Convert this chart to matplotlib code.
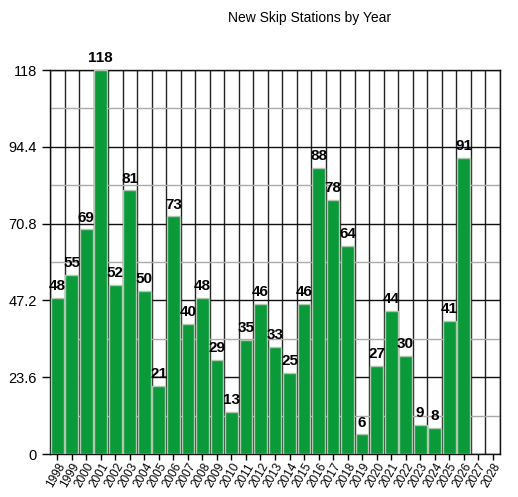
import matplotlib
matplotlib.use("Agg")
import matplotlib.pyplot as plt
import numpy as np

years = [str(y) for y in range(1998, 2029)]
values = [48, 55, 69, 118, 52, 81, 50, 21, 73, 40, 48, 29, 13, 35, 46, 33, 25, 46,
          88, 78, 64, 6, 27, 44, 30, 9, 8, 41, 91, None, None]
yticks = [0, 23.6, 47.2, 70.8, 94.4, 118]
ytick_labels = ["0", "23.6", "47.2", "70.8", "94.4", "118"]
minor_yticks = [11.8, 35.4, 59.0, 82.6, 106.2]

plt.rcParams['font.family'] = ['Liberation Sans', 'DejaVu Sans']
fig = plt.figure(figsize=(5.18, 4.97), dpi=100)
ax = fig.add_axes([50/518, 43/497, 450/518, 384/497])

x = np.arange(len(years))
for i, v in enumerate(values):
    if v is None:
        continue
    ax.bar(x[i], v, width=0.88, color='#0a9a3a', edgecolor='#b0c8b0', linewidth=1.0, zorder=3)
    ax.text(x[i], v + 1.5, str(v), ha='center', va='bottom', fontsize=11,
            fontweight='bold', zorder=4)

ax.set_xlim(-0.5, len(years) - 0.5)
ax.set_ylim(0, 118)
ax.set_yticks(yticks)
ax.set_yticklabels(ytick_labels, fontsize=10.5)
ax.set_yticks(minor_yticks, minor=True)
ax.tick_params(axis='y', which='minor', length=0)
ax.set_xticks(x)
ax.set_xticklabels(years, rotation=60, fontsize=8.5, ha='right', rotation_mode='anchor')
ax.tick_params(axis='x', length=4, width=1, pad=1)
ax.tick_params(axis='y', length=6, width=1)

# grid
for b in np.arange(-0.5, len(years) + 0.5, 1.0):
    ax.axvline(b, color='#222222', linewidth=1.0, zorder=1)
for t in yticks:
    ax.axhline(t, color='#111111', linewidth=1.0, zorder=1)
for t in minor_yticks:
    ax.axhline(t, color='#aaaaaa', linewidth=1.0, zorder=1)

for s in ['left', 'bottom', 'top', 'right']:
    ax.spines[s].set_color('#111111')
    ax.spines[s].set_linewidth(1.0)

fig.text(310/518, 1 - 18/497, "New Skip Stations by Year", ha='center', va='center', fontsize=10)

fig.savefig("out.png", dpi=100)
